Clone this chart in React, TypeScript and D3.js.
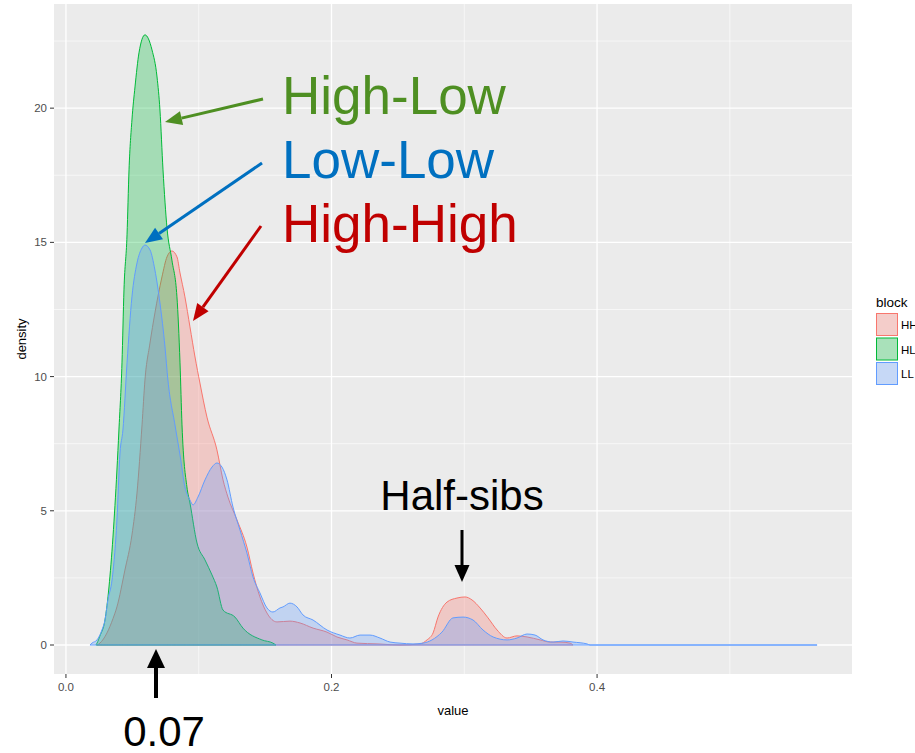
import React from 'react';
import * as d3 from 'd3';

// density curves (x = value, y = density)
const hhX = [0.0234, 0.0256, 0.0309, 0.0354, 0.0384, 0.0444, 0.0497, 0.0535, 0.0573, 0.0595, 0.0633, 0.067, 0.0723, 0.0761, 0.0798, 0.0836, 0.0859, 0.0896, 0.0934, 0.0972, 0.1009, 0.1062, 0.1137, 0.1183, 0.122, 0.1288, 0.1363, 0.1409, 0.1461, 0.1514, 0.1589, 0.1687, 0.1763, 0.1861, 0.1966, 0.2041, 0.2117, 0.2192, 0.235, 0.2516, 0.2667, 0.2719, 0.2765, 0.2802, 0.287, 0.2945, 0.3006, 0.3058, 0.3119, 0.3179, 0.3247, 0.3322, 0.3397, 0.3473, 0.3571, 0.3646, 0.3721, 0.3797, 0.3819];
const hhY = [0, 0.07, 0.45, 0.98, 1.42, 2.79, 4.1, 5.66, 8.2, 9.87, 11.25, 12.37, 13.71, 14.46, 14.68, 14.46, 13.86, 12.97, 11.85, 10.73, 9.76, 8.49, 7.27, 6.15, 5.51, 4.66, 3.65, 2.68, 1.79, 1.19, 0.86, 0.89, 0.82, 0.63, 0.48, 0.3, 0.19, 0.07, 0.04, 0, 0.04, 0.19, 0.45, 1.04, 1.6, 1.75, 1.79, 1.68, 1.38, 1.01, 0.56, 0.26, 0.34, 0.3, 0.19, 0.11, 0.11, 0.07, 0];

const hlX = [0.0226, 0.0234, 0.0256, 0.0294, 0.0324, 0.0354, 0.0384, 0.0399, 0.0422, 0.0437, 0.046, 0.0475, 0.0497, 0.052, 0.055, 0.0595, 0.0648, 0.0686, 0.0708, 0.0731, 0.0761, 0.0798, 0.0836, 0.0859, 0.0874, 0.0911, 0.0934, 0.0987, 0.1047, 0.11, 0.1137, 0.1183, 0.1273, 0.1333, 0.1476, 0.1559, 0.1582];
const hlY = [0, 0.07, 0.34, 0.93, 2.16, 4.02, 6.52, 8.01, 10.51, 13.23, 15.28, 17.7, 19.56, 20.79, 22.06, 22.73, 22.17, 21.16, 19.93, 17.7, 15.54, 14.34, 12.97, 10.51, 8.2, 5.89, 5.29, 3.8, 3.17, 2.61, 2.16, 1.3, 1.04, 0.63, 0.19, 0.07, 0];

const llX = [0.0181, 0.0196, 0.0234, 0.0271, 0.0294, 0.0316, 0.0347, 0.0384, 0.0407, 0.0429, 0.046, 0.0497, 0.0535, 0.0573, 0.0595, 0.0633, 0.067, 0.0708, 0.0746, 0.0768, 0.0821, 0.0859, 0.0896, 0.0934, 0.0957, 0.0994, 0.1047, 0.11, 0.1137, 0.1175, 0.1213, 0.1258, 0.1311, 0.1363, 0.1409, 0.1461, 0.1514, 0.1559, 0.1612, 0.1635, 0.1687, 0.174, 0.1785, 0.1861, 0.1966, 0.2064, 0.2139, 0.2215, 0.229, 0.2365, 0.2441, 0.2516, 0.2614, 0.2689, 0.2757, 0.2832, 0.2915, 0.2991, 0.3066, 0.3141, 0.3217, 0.3322, 0.3397, 0.3473, 0.3533, 0.3593, 0.3669, 0.3744, 0.3819, 0.3925, 0.3947, 0.5657];
const llY = [0, 0.07, 0.19, 0.56, 0.93, 1.68, 2.42, 4.66, 7.15, 8.01, 10.51, 12.97, 14.23, 14.79, 14.9, 14.72, 13.97, 12.74, 11.1, 9.87, 8.2, 7.08, 5.89, 5.4, 5.22, 5.51, 6.15, 6.63, 6.78, 6.63, 6.15, 5.14, 4.28, 3.43, 2.53, 1.94, 1.38, 1.23, 1.38, 1.42, 1.56, 1.42, 1.12, 0.93, 0.56, 0.37, 0.26, 0.37, 0.37, 0.26, 0.11, 0.07, 0.04, 0.07, 0.19, 0.48, 1.01, 1.04, 0.93, 0.56, 0.3, 0.19, 0.26, 0.41, 0.37, 0.19, 0.11, 0.15, 0.11, 0.04, 0, 0];

const blocks = ['HH', 'HL', 'LL'];
const blockColors = ['#F8766D', '#00BA38', '#619CFF'];

const xMajor = [0, 0.2, 0.4];
const xMinor = [0.1, 0.3, 0.5];
const yMajor = [0, 5, 10, 15, 20];
const yMinor = [2.5, 7.5, 12.5, 17.5, 22.5];

const font = 'Liberation Sans, Arial, sans-serif';

const Arrow = ({ x1, y1, x2, y2, color, w, headLen, headW }) => {
  const ang = Math.atan2(y2 - y1, x2 - x1);
  const bx = x2 - headLen * Math.cos(ang);
  const by = y2 - headLen * Math.sin(ang);
  const px = -Math.sin(ang) * headW / 2;
  const py = Math.cos(ang) * headW / 2;
  return (
    <g>
      <line x1={x1} y1={y1} x2={bx} y2={by} stroke={color} strokeWidth={w} />
      <polygon points={`${x2},${y2} ${bx + px},${by + py} ${bx - px},${by - py}`} fill={color} />
    </g>
  );
};

export default function App() {
  const left = 54, right = 852, top = 4, bottom = 674;
  const x = d3.scaleLinear().domain([-0.009, 0.592]).range([left, right]);
  const y = d3.scaleLinear().domain([-1.08, 23.88]).range([bottom, top]);

  const series = [
    { xs: hhX, ys: hhY },
    { xs: hlX, ys: hlY },
    { xs: llX, ys: llY },
  ];

  const area = d3.area<number[]>()
    .x(d => x(d[0]))
    .y0(y(0))
    .y1(d => y(d[1]))
    .curve(d3.curveMonotoneX);

  return (
    <svg width={915} height={753} style={{ position: 'absolute', left: 0, top: 0, background: '#fff' }} fontFamily={font}>
      <rect x={left} y={top} width={right - left} height={bottom - top} fill="#EBEBEB" />
      {xMinor.map(v => <line key={'xm' + v} x1={x(v)} x2={x(v)} y1={top} y2={bottom} stroke="#fff" strokeWidth={0.6} />)}
      {yMinor.map(v => <line key={'ym' + v} x1={left} x2={right} y1={y(v)} y2={y(v)} stroke="#fff" strokeWidth={0.6} />)}
      {xMajor.map(v => <line key={'xM' + v} x1={x(v)} x2={x(v)} y1={top} y2={bottom} stroke="#fff" strokeWidth={1.3} />)}
      {yMajor.map(v => <line key={'yM' + v} x1={left} x2={right} y1={y(v)} y2={y(v)} stroke="#fff" strokeWidth={1.3} />)}

      {series.map((s, i) => {
        const pts = s.xs.map((v, j) => [v, s.ys[j]]);
        return (
          <path key={blocks[i]} d={area(pts) + 'Z'} fill={blockColors[i]} fillOpacity={0.3}
            stroke={blockColors[i]} strokeWidth={1} />
        );
      })}

      {/* axes */}
      {xMajor.map(v => (
        <g key={'xt' + v}>
          <line x1={x(v)} x2={x(v)} y1={bottom} y2={bottom + 4} stroke="#333" strokeWidth={1} />
          <text x={x(v)} y={bottom + 17} textAnchor="middle" fontSize={11.5} fill="#4D4D4D">{v.toFixed(1)}</text>
        </g>
      ))}
      {yMajor.map(v => (
        <g key={'yt' + v}>
          <line x1={left - 4} x2={left} y1={y(v)} y2={y(v)} stroke="#333" strokeWidth={1} />
          <text x={left - 7} y={y(v) + 4} textAnchor="end" fontSize={11.5} fill="#4D4D4D">{v}</text>
        </g>
      ))}
      <text x={(left + right) / 2} y={715} textAnchor="middle" fontSize={13} fill="#000">value</text>
      <text transform={`translate(26,${(top + bottom) / 2}) rotate(-90)`} textAnchor="middle" fontSize={13} fill="#000">density</text>

      {/* legend */}
      <text x={876} y={307} fontSize={13.5} fill="#000">block</text>
      {blocks.map((b, i) => (
        <g key={'lg' + b}>
          <rect x={876} y={313 + i * 24.5} width={22} height={23} fill="#F2F2F2" />
          <rect x={876.5} y={313.5 + i * 24.5} width={21} height={22} fill={blockColors[i]} fillOpacity={0.3}
            stroke={blockColors[i]} strokeWidth={1} />
          <text x={901} y={329 + i * 24.5} fontSize={11.5} fill="#000">{b}</text>
        </g>
      ))}

      {/* annotations */}
      <text x={282} y={114} fontSize={53} fill="#4E8F22">High-Low</text>
      <text x={282} y={178} fontSize={53} fill="#0070C0">Low-Low</text>
      <text x={282} y={242} fontSize={53} fill="#C00000">High-High</text>
      <Arrow x1={263} y1={99} x2={165} y2={122} color="#4E8F22" w={3} headLen={17} headW={14} />
      <Arrow x1={262} y1={163} x2={145} y2={243} color="#0070C0" w={3} headLen={17} headW={14} />
      <Arrow x1={261} y1={226} x2={193} y2={321} color="#C00000" w={3} headLen={17} headW={14} />

      <text x={462} y={510} textAnchor="middle" fontSize={42} fill="#000">Half-sibs</text>
      <Arrow x1={462} y1={530} x2={462} y2={582} color="#000" w={3} headLen={17} headW={15} />

      <text x={164} y={746} textAnchor="middle" fontSize={42} fill="#000">0.07</text>
      <Arrow x1={156} y1={698} x2={156} y2={649} color="#000" w={4} headLen={19} headW={18} />
    </svg>
  );
}
